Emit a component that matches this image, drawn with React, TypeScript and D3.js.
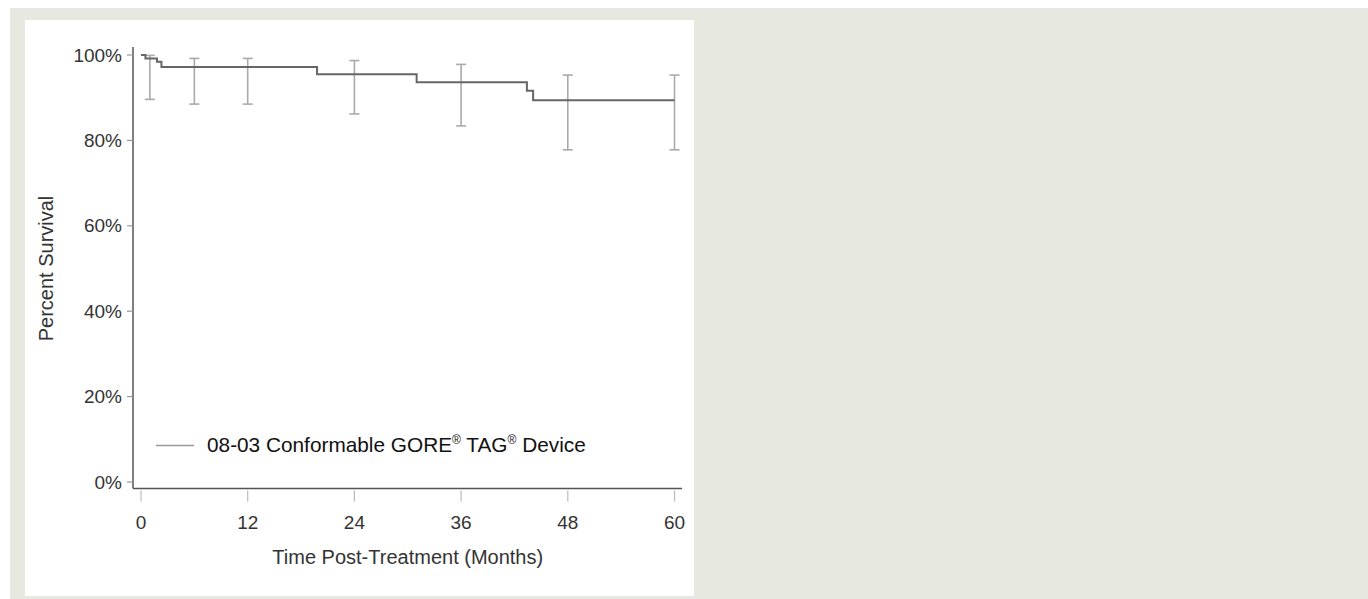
import React from "react";
import * as d3 from "d3";

// Kaplan-Meier step curve (months, survival)
const kmTimes = [0, 0.5, 1.8, 2.3, 19.8, 31.0, 43.4, 44.1, 60];
const kmSurv = [1.0, 0.992, 0.984, 0.972, 0.955, 0.936, 0.916, 0.894, 0.894];

// Confidence intervals
const ciMonths = [1, 6, 12, 24, 36, 48, 60];
const ciUpper = [0.999, 0.992, 0.992, 0.987, 0.978, 0.953, 0.953];
const ciLower = [0.896, 0.885, 0.885, 0.862, 0.834, 0.778, 0.778];

const xTicks = [0, 12, 24, 36, 48, 60];
const yTicks = [0, 0.2, 0.4, 0.6, 0.8, 1.0];

const legendLabel = "08-03 Conformable GORE";
const xTitle = "Time Post-Treatment (Months)";
const yTitle = "Percent Survival";

const W = 1368;
const H = 599;
const FONT = "'Liberation Sans', Arial, Helvetica, sans-serif";

export default function App() {
  const x = d3.scaleLinear().domain([0, 60]).range([141, 674.5]);
  const y = d3.scaleLinear().domain([0, 1]).range([482, 55]);

  const axisLeft = 133;
  const axisBottom = 488.5;
  const axisRight = 682;
  const axisTop = 47;

  const pts: [number, number][] = kmTimes.map((t, i) => [t, kmSurv[i]]);
  const line = d3
    .line<[number, number]>()
    .x((d) => x(d[0]))
    .y((d) => y(d[1]))
    .curve(d3.curveStepAfter);

  const fmt = d3.format(".0%");
  const cap = 5;

  return (
    <svg
      width={W}
      height={H}
      style={{ position: "absolute", left: 0, top: 0, display: "block" }}
      fontFamily={FONT}
    >
      <rect x={0} y={0} width={W} height={H} fill="#ffffff" />
      <rect x={10} y={8} width={W - 10} height={H - 8} fill="#e7e8e0" />
      <rect x={25} y={20} width={669} height={576} fill="#ffffff" />

      {/* axes */}
      <line x1={axisLeft} x2={axisLeft} y1={axisTop} y2={axisBottom} stroke="#555" strokeWidth={1.5} />
      <line x1={axisLeft} x2={axisRight} y1={axisBottom} y2={axisBottom} stroke="#555" strokeWidth={1.5} />

      {yTicks.map((t) => (
        <g key={"y" + t}>
          <line x1={axisLeft - 6} x2={axisLeft} y1={y(t)} y2={y(t)} stroke="#999" strokeWidth={1.2} />
          <text x={122} y={y(t)} dy="0.35em" textAnchor="end" fontSize={19} fill="#333">
            {fmt(t)}
          </text>
        </g>
      ))}

      {xTicks.map((t) => (
        <g key={"x" + t}>
          <line x1={x(t)} x2={x(t)} y1={axisBottom + 2} y2={axisBottom + 13} stroke="#bbb" strokeWidth={1.2} />
          <text x={x(t)} y={522} dy="0.35em" textAnchor="middle" fontSize={19} fill="#333">
            {t}
          </text>
        </g>
      ))}

      <text x={(x(0) + x(60)) / 2} y={557} dy="0.35em" textAnchor="middle" fontSize={20} fill="#333">
        {xTitle}
      </text>
      <text
        transform={`translate(46,${(y(0) + y(1)) / 2}) rotate(-90)`}
        dy="0.35em"
        textAnchor="middle"
        fontSize={20}
        fill="#333"
      >
        {yTitle}
      </text>

      {/* error bars */}
      {ciMonths.map((m, i) => (
        <g key={"ci" + m} stroke="#aaa" strokeWidth={1.6}>
          <line x1={x(m)} x2={x(m)} y1={y(ciUpper[i])} y2={y(ciLower[i])} />
          <line x1={x(m) - cap} x2={x(m) + cap} y1={y(ciUpper[i])} y2={y(ciUpper[i])} />
          <line x1={x(m) - cap} x2={x(m) + cap} y1={y(ciLower[i])} y2={y(ciLower[i])} />
        </g>
      ))}

      {/* KM curve */}
      <path d={line(pts) || ""} fill="none" stroke="#666" strokeWidth={2} />

      {/* legend */}
      <line x1={156} x2={194} y1={445.5} y2={445.5} stroke="#999" strokeWidth={1.6} />
      <text x={207} y={451.5} fontSize={20.8} fill="#111">
        {legendLabel}
        <tspan fontSize={12} dy={-8}>®</tspan>
        <tspan dy={8}> TAG</tspan>
        <tspan fontSize={12} dy={-8}>®</tspan>
        <tspan dy={8}> Device</tspan>
      </text>
    </svg>
  );
}
